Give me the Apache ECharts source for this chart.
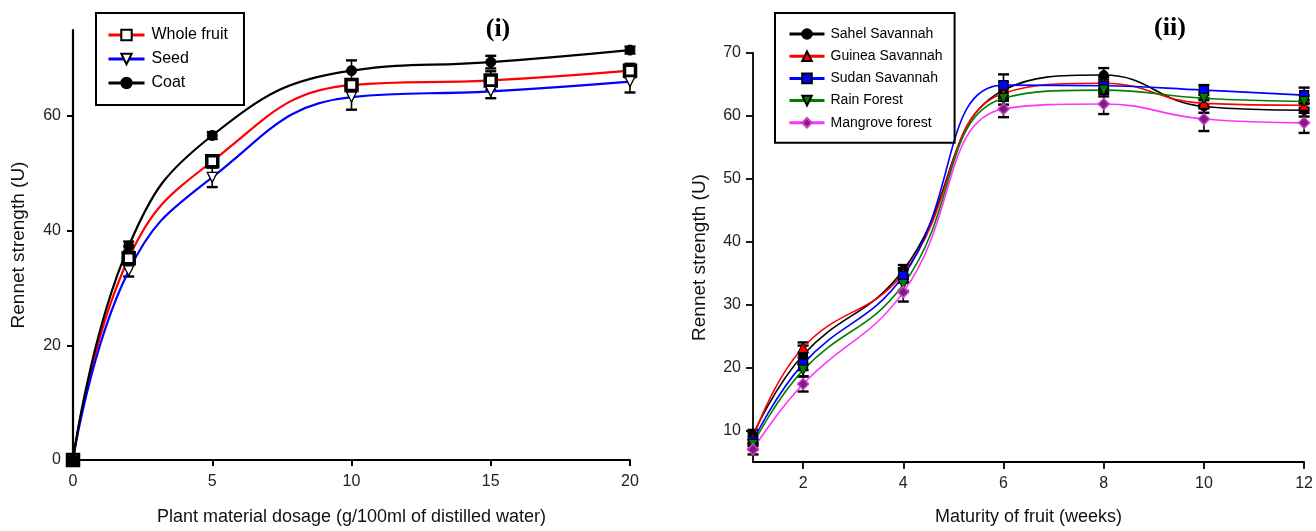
<!DOCTYPE html>
<html>
<head>
<meta charset="utf-8">
<script src="https://cdn.jsdelivr.net/npm/echarts@6/dist/echarts.min.js"></script>
<style>
html,body{margin:0;padding:0;background:#fff;}
#c{width:1316px;height:531px;}
</style>
</head>
<body>
<div id="c"></div>
<script>
// ---- Panel (i) data ----
const dosage = [0, 2, 5, 10, 15, 20];
const wholeFruit = [0, 35.2, 52.1, 65.4, 66.2, 67.9];
const wholeFruitErr = [0.3, 1.0, 0.8, 1.0, 1.6, 1.2];
const seed = [0, 33.0, 49.3, 63.3, 64.3, 66.0];
const seedErr = [0.3, 1.0, 1.7, 2.2, 1.2, 1.9];
const coat = [0, 37.3, 56.6, 67.9, 69.4, 71.5];
const coatErr = [0.3, 0.8, 0.6, 1.8, 1.1, 0.6];
const leftXTicks = [0, 5, 10, 15, 20];
const leftYTicks = [0, 20, 40, 60];

// ---- Panel (ii) data ----
const weeks = [1, 2, 4, 6, 8, 10, 12];
const sahel = [9.3, 22.0, 35.5, 64.1, 66.5, 61.5, 60.9];
const sahelErr = [0.8, 1.5, 0.8, 1.3, 1.1, 1.0, 1.0];
const guinea = [8.8, 23.2, 35.0, 63.6, 65.2, 62.0, 61.7];
const guineaErr = [0.8, 0.8, 0.8, 1.0, 1.0, 0.8, 0.8];
const sudan = [8.3, 20.6, 34.6, 64.9, 64.8, 64.1, 63.3];
const sudanErr = [0.8, 1.0, 1.0, 1.7, 1.0, 0.8, 1.2];
const rain = [7.8, 19.6, 33.2, 62.8, 64.1, 62.8, 62.3];
const rainErr = [0.8, 1.0, 1.0, 1.0, 1.0, 1.0, 1.0];
const mangrove = [7.0, 17.4, 32.0, 61.1, 61.9, 59.5, 58.9];
const mangroveErr = [0.8, 1.2, 1.5, 1.3, 1.6, 1.9, 1.6];
const rightXTicks = [2, 4, 6, 8, 10, 12];
const rightYTicks = [10, 20, 30, 40, 50, 60, 70];

const FONT = 'Liberation Sans';

function pairs(xs, ys) { return xs.map((x, i) => [x, ys[i]]); }
function triples(xs, ys, es) { return xs.map((x, i) => [x, ys[i], es[i]]); }

function errRender(params, api) {
  const x = api.value(0), y = api.value(1), e = api.value(2);
  const top = api.coord([x, y + e]);
  const bot = api.coord([x, y - e]);
  const w = 5.5;
  const st = { stroke: '#000', lineWidth: 1.6 };
  const cap = { stroke: '#000', lineWidth: 2.4 };
  return {
    type: 'group',
    children: [
      { type: 'line', shape: { x1: top[0], y1: top[1], x2: bot[0], y2: bot[1] }, style: st },
      { type: 'line', shape: { x1: top[0] - w, y1: top[1], x2: top[0] + w, y2: top[1] }, style: cap },
      { type: 'line', shape: { x1: bot[0] - w, y1: bot[1], x2: bot[0] + w, y2: bot[1] }, style: cap }
    ]
  };
}

function errSeries(name, xs, ys, es, idx) {
  return {
    type: 'custom', name: name, xAxisIndex: idx, yAxisIndex: idx,
    renderItem: errRender, data: triples(xs, ys, es),
    encode: { x: 0, y: 1 }, z: 1, silent: true, clip: false
  };
}

function lineSeries(name, xs, ys, idx, color, lw, symbol, size, fill, border, bw, rot) {
  return {
    type: 'line', name: name, xAxisIndex: idx, yAxisIndex: idx,
    data: pairs(xs, ys), smooth: 0.45, clip: false, z: 2,
    symbol: symbol, symbolSize: size, symbolRotate: rot || 0,
    lineStyle: { color: color, width: lw },
    itemStyle: { color: fill, borderColor: border, borderWidth: bw, opacity: 1 },
    emphasis: { disabled: true }
  };
}

const axisCommon = {
  axisLine: { show: true, lineStyle: { color: '#000', width: 2.2 } },
  axisTick: { show: true, inside: false, length: 6, lineStyle: { color: '#000', width: 2 } },
  splitLine: { show: false },
  nameTextStyle: { color: '#111', fontFamily: FONT, fontSize: 18 }
};

const chart = echarts.init(document.getElementById('c'), null, { renderer: 'canvas' });

const option = {
  animation: false,
  backgroundColor: '#fff',
  grid: [
    { left: 73, right: 686, top: 30, bottom: 71 },
    { left: 753, right: 6, top: 53, bottom: 69 }
  ],
  xAxis: [
    Object.assign({}, axisCommon, {
      type: 'value', gridIndex: 0, min: 0, max: 20,
      name: 'Plant material dosage (g/100ml of distilled water)',
      nameLocation: 'middle', nameGap: 48,
      axisTick: Object.assign({}, axisCommon.axisTick, { customValues: leftXTicks }),
      axisLabel: { customValues: leftXTicks, color: '#222', fontFamily: FONT, fontSize: 16, margin: 14 }
    }),
    Object.assign({}, axisCommon, {
      type: 'value', gridIndex: 1, min: 1, max: 12,
      name: 'Maturity of fruit (weeks)',
      nameLocation: 'middle', nameGap: 46,
      axisLine: { show: true, lineStyle: { color: '#000', width: 1.8 } },
      axisTick: { show: true, length: 7, lineStyle: { color: '#000', width: 1.8 }, customValues: rightXTicks },
      axisLabel: { customValues: rightXTicks, color: '#222', fontFamily: FONT, fontSize: 16, margin: 14 }
    })
  ],
  yAxis: [
    Object.assign({}, axisCommon, {
      type: 'value', gridIndex: 0, min: 0, max: 75,
      name: 'Rennet strength (U)', nameLocation: 'middle', nameGap: 45,
      nameTextStyle: { color: '#111', fontFamily: FONT, fontSize: 19 },
      axisTick: Object.assign({}, axisCommon.axisTick, { customValues: leftYTicks }),
      axisLabel: { customValues: leftYTicks, color: '#222', fontFamily: FONT, fontSize: 16, margin: 12 }
    }),
    Object.assign({}, axisCommon, {
      type: 'value', gridIndex: 1, min: 5, max: 70,
      name: 'Rennet strength (U)', nameLocation: 'middle', nameGap: 44,
      nameTextStyle: { color: '#111', fontFamily: FONT, fontSize: 19 },
      axisLine: { show: true, lineStyle: { color: '#000', width: 1.8 } },
      axisTick: { show: true, length: 7, lineStyle: { color: '#000', width: 1.8 }, customValues: rightYTicks },
      axisLabel: { customValues: rightYTicks, color: '#222', fontFamily: FONT, fontSize: 16, margin: 12 }
    })
  ],
  legend: [
    {
      orient: 'vertical', left: 96, top: 13,
      data: ['Whole fruit', 'Seed', 'Coat'],
      itemWidth: 36, itemHeight: 13, itemGap: 8,
      padding: [14, 16, 14, 11],
      borderColor: '#000', borderWidth: 2, borderRadius: 0,
      lineStyle: { width: 3 },
      textStyle: { color: '#000', fontFamily: FONT, fontSize: 16, padding: [0, 0, 0, 2] },
      selectedMode: false
    },
    {
      orient: 'vertical', left: 775, top: 13,
      data: ['Sahel Savannah', 'Guinea Savannah', 'Sudan Savannah', 'Rain Forest', 'Mangrove forest'],
      itemWidth: 35, itemHeight: 12, itemGap: 8.2,
      padding: [14, 12, 13, 13],
      borderColor: '#000', borderWidth: 2, borderRadius: 0,
      lineStyle: { width: 3 },
      textStyle: { color: '#000', fontFamily: FONT, fontSize: 14, padding: [0, 0, 0, 1] },
      selectedMode: false
    }
  ],
  graphic: [
    { type: 'text', x: 498, y: 29, style: { text: '(i)', font: 'bold 26px "Liberation Serif"', fill: '#000', textAlign: 'center', textVerticalAlign: 'middle' } },
    { type: 'text', x: 1170, y: 28, style: { text: '(ii)', font: 'bold 26px "Liberation Serif"', fill: '#000', textAlign: 'center', textVerticalAlign: 'middle' } }
  ],
  series: [
    errSeries('e_whole', dosage, wholeFruit, wholeFruitErr, 0),
    errSeries('e_seed', dosage, seed, seedErr, 0),
    errSeries('e_coat', dosage, coat, coatErr, 0),
    lineSeries('Whole fruit', dosage, wholeFruit, 0, '#ff0000', 2.2, 'rect', 11, '#fff', '#000', 3.5),
    lineSeries('Seed', dosage, seed, 0, '#0000ff', 2.2, 'triangle', 10, '#fff', '#000', 1.3, 180),
    lineSeries('Coat', dosage, coat, 0, '#000000', 2.2, 'circle', 10, '#000', '#000', 1),

    errSeries('e_sahel', weeks, sahel, sahelErr, 1),
    errSeries('e_guinea', weeks, guinea, guineaErr, 1),
    errSeries('e_sudan', weeks, sudan, sudanErr, 1),
    errSeries('e_rain', weeks, rain, rainErr, 1),
    errSeries('e_mangrove', weeks, mangrove, mangroveErr, 1),
    lineSeries('Sahel Savannah', weeks, sahel, 1, '#000000', 1.6, 'circle', 9, '#000', '#000', 1),
    lineSeries('Guinea Savannah', weeks, guinea, 1, '#ff0000', 1.6, 'triangle', 10, '#ff0000', '#000', 1),
    lineSeries('Sudan Savannah', weeks, sudan, 1, '#0000ff', 1.6, 'rect', 9, '#0000ff', '#000', 1.2),
    lineSeries('Rain Forest', weeks, rain, 1, '#008000', 1.6, 'triangle', 10, '#008000', '#000', 1, 180),
    lineSeries('Mangrove forest', weeks, mangrove, 1, '#ff33ff', 1.6, 'diamond', 11, '#7a1f7a', '#d040d0', 1.5)
  ]
};

chart.setOption(option);
</script>
</body>
</html>
